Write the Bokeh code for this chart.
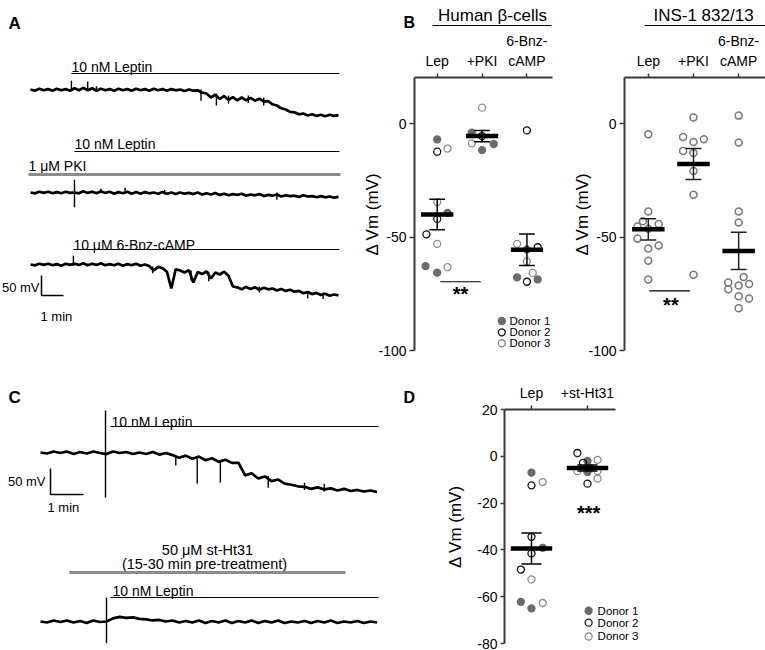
import numpy as np
from bokeh.plotting import figure
from bokeh.models import FixedTicker, Range1d
from bokeh.layouts import row, column
from bokeh.core.properties import value
from bokeh.embed import file_html
from bokeh.resources import INLINE

FONT = "Liberation Sans"

# ------------------------------------------------------------------ data
# Panel A: example recordings, change in membrane potential (mV), one value every 0.2 min
STEP_A = 0.2
trace_lep = [0, -3, 2, -2, 1, -3, 2, -2, 1, -3,
             3, -2, 4, -2, 3, -3, 2, -2, 1, -3,
             2, -2, 1, -3, 2, -2, 1, -3, 2, -2,
             1, -3, 1, -2, 0, -4, 0, -3, -2, -8,
             -10, -20, -13, -24, -16, -26, -19, -27, -20, -27,
             -21, -28, -23, -30, -29, -37, -40, -47, -50, -56,
             -57, -62, -60, -65, -62, -66, -63, -67, -63, -66,
             -64]
trace_pki = [0, -2, 2, -1, 2, -2, 1, -2, 2, -1,
             0, -2, 3, -1, 2, -2, 3, -1, 2, -3,
             1, -2, 2, -3, 1, -3, 1, -2, 0, -3,
             1, -3, 0, -4, 0, -3, -1, -4, 0, -5,
             -2, -5, -1, -6, -3, -7, -4, -6, -3, -8,
             -5, -7, -4, -9, -6, -8, -5, -10, -7, -9,
             -8, -11, -7, -10, -9, -12, -9, -12, -10, -13,
             -11]
trace_bnz = [0, -2, 2, -1, 2, -2, 1, -3, 2, -1,
             2, -1, 3, -2, 2, -1, 3, -2, 1, -2,
             2, -3, 1, -2, 2, -3, 0, -4, -15, -6,
             -9, -18, -60, -12, -15, -20, -14, -45, -19, -24,
             -17, -35, -20, -25, -18, -28, -55, -57, -62, -56,
             -61, -57, -63, -58, -62, -60, -65, -61, -66, -63,
             -68, -66, -72, -69, -74, -71, -76, -73, -78, -75,
             -77]
# fast transients: (time min, top mV, bottom mV)
spikes_lep = [(1.86, 22, -4), (2.6, 20, -3), (3.0, 8, -2), (7.75, 0, -28),
              (8.45, -10, -40), (9.0, -15, -35), (9.9, -15, -34), (10.6, -20, -40)]
spikes_pki = [(2.0, 32, -37), (3.2, 10, -2), (4.3, 12, -2), (6.1, 6, -5), (11.2, 0, -18)]
spikes_bnz = [(1.95, 22, -4), (5.55, -5, -22), (7.3, -15, -40), (8.1, -18, -42),
              (10.4, -55, -70), (12.6, -66, -85), (13.3, -70, -86)]
onset_A = [1.86, 2.0, 1.95]          # drug application (min)

# Panel C: recordings without / with st-Ht31, one value every 0.2 min
STEP_C = 0.2
trace_c_lep = [0, -2, 2, -1, 2, -3, 1, -2, 2, -1,
               -3, 2, -1, 1, -3, 0, -3, 1, -4, -1,
               -5, -10, -6, -12, -8, -15, -11, -18, -14, -20,
               -20, -44, -40, -50, -46, -55, -52, -60, -62, -65,
               -66, -70, -67, -71, -69, -73, -70, -74, -72, -75,
               -73, -76]
trace_c_ht31 = [0, -2, 2, -1, 2, -2, 1, -3, 2, -1,
                0, 6, 9, 7, 8, 5, 4, 2, 3, 0,
                2, -2, 1, -2, 2, -3, 1, -2, 2, -3,
                1, -2, 2, -3, 1, -2, 2, -3, 0, -2,
                1, -3, 1, -2, 2, -3, 0, -2, 1, -3,
                0, -2]
spikes_c_lep = [(1.97, 81, -87), (4.1, -8, -25), (4.75, -12, -60), (5.45, -15, -58),
                (6.9, -45, -68), (8.0, -58, -72), (8.6, -60, -75)]
spikes_c_ht31 = [(2.0, 46, -42)]

# Panel B: human beta-cells, ΔVm (mV) per cell, donor id, horizontal jitter
human_cats = ["Lep", "+PKI", "6-Bnz-\ncAMP"]
hb_lep = [-7, -12.4, -11, -34.6, -39.4, -42, -48.8, -53, -62.8, -65.7, -63.3]
hb_lep_donor = [1, 2, 3, 3, 1, 2, 2, 3, 1, 1, 3]
hb_lep_jit = [0, 0, 0.23, 0, 0.23, 0, -0.24, 0, -0.26, 0, 0.23]
hb_pki = [7, -4, -5.5, -8.7, -9, -11.7]
hb_pki_donor = [3, 1, 2, 3, 1, 1]
hb_pki_jit = [0, -0.23, 0, -0.23, 0.26, 0]
hb_bnz = [-3, -53, -54.5, -55.5, -60.8, -65.8, -67.8, -68.7, -69.7]
hb_bnz_donor = [2, 3, 2, 1, 3, 3, 1, 1, 2]
hb_bnz_jit = [0, -0.22, 0.24, 0, 0, 0.13, -0.22, 0.24, 0]
hb_mean = [-40.1, -5.5, -55.6]
hb_sem = [6.7, 2.5, 6.9]

# Panel B: INS-1 832/13 cells
ins_cats = ["Lep", "+PKI", "6-Bnz-\ncAMP"]
ins_lep = [-4.7, -38.7, -43, -44.3, -45.4, -46.4, -50.7, -53.7, -55.1, -60.4, -68.7]
ins_lep_jit = [0, 0, -0.12, 0.23, -0.24, 0, -0.24, 0.23, 0, 0, 0]
ins_pki = [2.7, -5.9, -6.9, -8.1, -12.1, -13, -20.9, -31.4, -66.6]
ins_pki_jit = [0, -0.23, 0.23, 0, -0.23, 0, 0, 0, 0]
ins_bnz = [3.5, -8.3, -38.7, -43.6, -67.6, -70, -70.7, -71.4, -73, -76.1, -77.1, -81.4]
ins_bnz_jit = [0, 0, 0, 0, 0.11, -0.23, 0.23, 0, -0.23, 0, 0.23, 0]
ins_mean = [-46.6, -17.8, -56.1]
ins_sem = [4.7, 6.8, 8.2]

# Panel D: human beta-cells, Lep vs +st-Ht31
d_cats = ["Lep", "+st-Ht31"]
d_lep = [-7, -12.4, -11, -34.4, -39.1, -41.5, -48.4, -52.6, -62.2, -65, -62.7]
d_lep_donor = [1, 2, 3, 2, 1, 2, 2, 3, 1, 1, 3]
d_lep_jit = [0, 0, 0.2, 0, 0.2, 0, -0.19, 0, -0.19, 0, 0.2]
d_ht = [1.4, -2, -1.5, -2.8, -5, -6.3, -6.7, -6.3, -9.5, -11.7]
d_ht_donor = [2, 1, 3, 2, 1, 3, 1, 3, 3, 2]
d_ht_jit = [-0.18, 0, 0.18, -0.08, 0.05, -0.18, 0, 0.18, 0.18, 0]
d_mean = [-39.4, -5.0]
d_sem = [6.6, 1.3]

donor_labels = ["Donor 1", "Donor 2", "Donor 3"]

# ------------------------------------------------------------------ styles
DONOR_STYLE = {
    1: dict(fill_color="#6b6b6b", line_color="#6b6b6b", fill_alpha=1.0),
    2: dict(fill_color="white", line_color="#111111", fill_alpha=0.0),
    3: dict(fill_color="white", line_color="#8c8c8c", fill_alpha=0.0),
}


def no_align(p):
    try:
        p.frame_align = False
    except Exception:
        pass


def txt(p, x, y, s, size, align="left", baseline="alphabetic", style="normal", color="black"):
    p.text(x=[x], y=[y], text=[s], text_font=value(FONT), text_font_size=value(size),
           text_align=value(align), text_baseline=value(baseline),
           text_font_style=value(style), text_color=value(color))


def plain_fig(w, h, xr, yr):
    p = figure(width=w, height=h, x_range=Range1d(*xr), y_range=Range1d(*yr),
               x_axis_type=None, y_axis_type=None, min_border=0,
               output_backend="svg", toolbar_location=None)
    p.outline_line_color = None
    p.grid.visible = False
    no_align(p)
    return p


def draw_trace(p, vals, step, base, spikes):
    t = np.arange(len(vals)) * step
    p.line(t, base + np.array(vals, dtype=float), line_color="black", line_width=2.7)
    for ts, hi, lo in spikes:
        p.segment(x0=[ts], y0=[base + lo], x1=[ts], y1=[base + hi], line_color="black", line_width=1.4)


# ------------------------------------------------------------------ panel A
A_W, A_H = 360, 375
A_PX_MIN, A_MV_PX = 22.0, 2.5
def tA(px):
    return (px - 30) / A_PX_MIN
def yA(py):
    return -py * A_MV_PX

pA = plain_fig(A_W, A_H, (tA(0), tA(A_W)), (yA(A_H), yA(0)))
txt(pA, tA(8), yA(23), "A", "17px", style="bold")
t_end_A = tA(339)
txt(pA, onset_A[0], yA(66), "10 nM Leptin", "14px")
pA.line([onset_A[0], t_end_A], [yA(73)] * 2, line_color="black", line_width=1.2)
draw_trace(pA, trace_lep, STEP_A, yA(89), spikes_lep)
txt(pA, onset_A[1], yA(143), "10 nM Leptin", "14px")
pA.line([onset_A[1], t_end_A], [yA(151)] * 2, line_color="black", line_width=1.2)
txt(pA, tA(28), yA(165), "1 \u03bcM PKI", "14px")
pA.line([tA(28), tA(340)], [yA(174)] * 2, line_color="#8c8c8c", line_width=3)
draw_trace(pA, trace_pki, STEP_A, yA(192), spikes_pki)
txt(pA, onset_A[2], yA(244), "10 \u03bcM 6-Bnz-cAMP", "14px")
pA.line([onset_A[2], t_end_A], [yA(249)] * 2, line_color="black", line_width=1.2)
draw_trace(pA, trace_bnz, STEP_A, yA(264), spikes_bnz)
sb_x, sb_y = tA(41), yA(295)
pA.line([sb_x, sb_x, sb_x + 1], [sb_y + 50, sb_y, sb_y], line_color="black", line_width=1.5)
txt(pA, tA(39), yA(287), "50 mV", "13px", align="right", baseline="middle")
txt(pA, tA(40), yA(316), "1 min", "13px")

# ------------------------------------------------------------------ panel C
C_W, C_H = 420, 275
C_PX_MIN, C_MV_PX = 33.0, 50 / 26
def tC(px):
    return (px - 40) / C_PX_MIN
def yC(py):
    return -(py - 375) * C_MV_PX

pC = plain_fig(C_W, C_H, (tC(0), tC(C_W)), (yC(375 + C_H), yC(375)))
txt(pC, tC(8), yC(397), "C", "17px", style="bold")
txt(pC, tC(403), yC(397), "D", "16px", style="bold")
txt(pC, tC(111), yC(421), "10 nM Leptin", "14px")
pC.line([tC(110), tC(378)], [yC(426)] * 2, line_color="black", line_width=1.2)
draw_trace(pC, trace_c_lep, STEP_C, yC(452), spikes_c_lep)
sbx, sby = tC(50), yC(494)
pC.line([sbx, sbx, sbx + 1], [sby + 50, sby, sby], line_color="black", line_width=1.5)
txt(pC, tC(45), yC(481), "50 mV", "13px", align="right", baseline="middle")
txt(pC, tC(47), yC(507), "1 min", "13px")
txt(pC, tC(207), yC(549), "50 \u03bcM st-Ht31", "14.5px", align="center")
txt(pC, tC(204), yC(563), "(15-30 min pre-treatment)", "14.5px", align="center")
pC.line([tC(69), tC(345)], [yC(572)] * 2, line_color="#8c8c8c", line_width=3)
txt(pC, tC(112), yC(590), "10 nM Leptin", "14px")
pC.line([tC(110), tC(378)], [yC(597)] * 2, line_color="black", line_width=1.2)
draw_trace(pC, trace_c_ht31, STEP_C, yC(621), spikes_c_ht31)


# ------------------------------------------------------------------ headers of panel B
def header(x0, w, letter, title, title_cx, line_x0, line_x1):
    p = plain_fig(w, 30, (x0, x0 + w), (30, 0))
    if letter:
        txt(p, 403, 22, letter, "16px", style="bold")
    txt(p, title_cx, 15, title, "17px", align="center")
    p.line([line_x0, line_x1], [25, 25], line_color="black", line_width=1.2)
    return p

hBh = header(360, 210, "B", "Human \u03b2-cells", 492, 432, 551)
hBi = header(570, 195, None, "INS-1 832/13", 703, 644, 765)


# ------------------------------------------------------------------ scatter panels
def scatter_fig(w, h, xr, yr, borders, yticks, cats, cat_bounds=None, ylabel_standoff=-7):
    l, r, t, b = borders
    p = figure(width=w, height=h, x_range=Range1d(*xr), y_range=Range1d(*yr),
               x_axis_location="above", min_border_left=l, min_border_right=r,
               min_border_top=t, min_border_bottom=b,
               output_backend="svg", toolbar_location=None)
    p.outline_line_color = None
    p.grid.visible = False
    no_align(p)
    ax = p.xaxis[0]
    ax.ticker = FixedTicker(ticks=list(range(1, len(cats) + 1)))
    ax.major_label_overrides = {i + 1: c for i, c in enumerate(cats)}
    ax.major_tick_in = 0
    ax.major_tick_out = 4
    ax.minor_tick_line_color = None
    ax.axis_line_width = 1.8
    ax.axis_line_color = "#3a3a3a"
    ax.major_tick_line_color = "#3a3a3a"
    ax.major_tick_line_width = 1.5
    ax.major_label_text_font = FONT
    ax.major_label_text_font_size = "14px"
    ax.major_label_text_line_height = 1.2
    ax.major_label_text_color = "black"
    ax.major_label_standoff = 5
    if cat_bounds is not None:
        ax.bounds = cat_bounds
    ay = p.yaxis[0]
    ay.ticker = FixedTicker(ticks=yticks)
    ay.major_label_overrides = {v: str(v) for v in yticks}
    ay.major_tick_in = 0
    ay.major_tick_out = 5
    ay.minor_tick_line_color = None
    ay.axis_line_width = 2
    ay.axis_line_color = "#3a3a3a"
    ay.major_tick_line_color = "#3a3a3a"
    ay.major_tick_line_width = 1.5
    ay.major_label_text_font = FONT
    ay.major_label_text_font_size = "14px"
    ay.major_label_text_color = "black"
    ay.major_label_standoff = 3
    ay.axis_label = "\u0394 Vm (mV)"
    ay.axis_label_text_font = FONT
    ay.axis_label_text_font_size = "17px"
    ay.axis_label_text_font_style = "normal"
    ay.axis_label_text_color = "black"
    ay.axis_label_standoff = ylabel_standoff
    return p


def donor_points(p, cat, vals, donors, jit, size=7):
    for d, st in DONOR_STYLE.items():
        idx = [i for i, dd in enumerate(donors) if dd == d]
        if not idx:
            continue
        p.scatter([cat + jit[i] for i in idx], [vals[i] for i in idx], marker="circle",
                  size=size, line_width=1.3, **st)


def gray_points(p, cat, vals, jit, size=7):
    p.scatter([cat + j for j in jit], vals, marker="circle", size=size, fill_alpha=0,
              line_color="#7a7a7a", line_width=1.5)


def mean_sem(p, means, sems, half_bar=0.36, half_cap=0.18, color="black"):
    cats = list(range(1, len(means) + 1))
    lo = [m - s for m, s in zip(means, sems)]
    hi = [m + s for m, s in zip(means, sems)]
    p.segment(x0=cats, y0=lo, x1=cats, y1=hi, line_color=color, line_width=1.5)
    p.segment(x0=[c - half_cap for c in cats], y0=lo, x1=[c + half_cap for c in cats], y1=lo,
              line_color=color, line_width=1.5)
    p.segment(x0=[c - half_cap for c in cats], y0=hi, x1=[c + half_cap for c in cats], y1=hi,
              line_color=color, line_width=1.5)
    p.segment(x0=[c - half_bar for c in cats], y0=means, x1=[c + half_bar for c in cats], y1=means,
              line_color="black", line_width=4.5)


def legend(p, x, ys, dx):
    for d, yv, lab in zip([1, 2, 3], ys, donor_labels):
        p.scatter([x], [yv], marker="circle", size=7, line_width=1.3, **DONOR_STYLE[d])
        txt(p, x + dx, yv, lab, "11.5px", baseline="middle")


# Human beta-cells  (figure x 360..570, y 30..375; frame 412..552 x 72..350)
pBh = scatter_fig(210, 345, (0.494, 3.57), (-100, 20.3), (52, 18, 42, 25), [-100, -50, 0],
                  human_cats)
donor_points(pBh, 1, hb_lep, hb_lep_donor, hb_lep_jit)
donor_points(pBh, 2, hb_pki, hb_pki_donor, hb_pki_jit)
donor_points(pBh, 3, hb_bnz, hb_bnz_donor, hb_bnz_jit)
mean_sem(pBh, hb_mean, hb_sem, half_cap=0.175)
pBh.line([1.07, 1.97], [-69.7, -69.7], line_color="black", line_width=1.2)
txt(pBh, 1.52, -75.3, "**", "20px", align="center", style="bold")
legend(pBh, 2.44, [-87, -92, -96.8], 0.17)

# INS-1 832/13  (figure x 570..765; frame 623..765)
pBi = scatter_fig(195, 345, (0.473, 3.594), (-100, 20.3), (53, 0, 42, 25), [-100, -50, 0],
                  ins_cats)
gray_points(pBi, 1, ins_lep, ins_lep_jit)
gray_points(pBi, 2, ins_pki, ins_pki_jit)
gray_points(pBi, 3, ins_bnz, ins_bnz_jit)
mean_sem(pBi, ins_mean, ins_sem, half_cap=0.175, color="#222222")
pBi.line([1.02, 1.92], [-73.7, -73.7], line_color="black", line_width=1.2)
txt(pBi, 1.5, -79.9, "**", "20px", align="center", style="bold")

# Panel D  (figure x 420..765, y 375..650; frame 504..650 x 409..643)
pD = scatter_fig(345, 275, (0.518, 3.125), (-80, 20), (84, 115, 34, 7),
                 [-80, -60, -40, -20, 0, 20], d_cats, cat_bounds=(0.518, 2.5), ylabel_standoff=9)
pD.yaxis[0].major_tick_out = 4
donor_points(pD, 1, d_lep, d_lep_donor, d_lep_jit)
donor_points(pD, 2, d_ht, d_ht_donor, d_ht_jit)
mean_sem(pD, d_mean, d_sem, half_bar=0.37, half_cap=0.18)
txt(pD, 2.02, -24.3, "***", "20px", align="center", style="bold")
legend(pD, 2.02, [-66, -71.1, -77], 0.16)

layout = column(row(pA, column(hBh, pBh), column(hBi, pBi)), row(pC, pD))
open("out.html", "w").write(file_html(layout, INLINE))
